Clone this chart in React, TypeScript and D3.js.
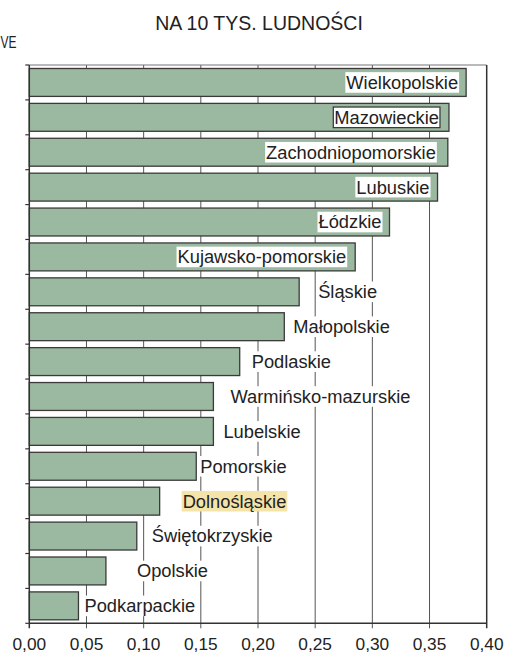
import * as d3 from 'd3'
import { useEffect, useRef } from 'react'

// regions, top to bottom
const regions = [
  'Wielkopolskie',
  'Mazowieckie',
  'Zachodniopomorskie',
  'Lubuskie',
  'Łódzkie',
  'Kujawsko-pomorskie',
  'Śląskie',
  'Małopolskie',
  'Podlaskie',
  'Warmińsko-mazurskie',
  'Lubelskie',
  'Pomorskie',
  'Dolnośląskie',
  'Świętokrzyskie',
  'Opolskie',
  'Podkarpackie',
]
// na 10 tys. ludności
const values = [
  0.382, 0.367, 0.366, 0.357, 0.315, 0.285, 0.236, 0.223, 0.184, 0.161, 0.161,
  0.146, 0.114, 0.094, 0.067, 0.043,
]
const xTicks = [0, 0.05, 0.1, 0.15, 0.2, 0.25, 0.3, 0.35, 0.4]
const title = 'NA 10 TYS. LUDNOŚCI'
const sideText = 'VE'

// label placement (px from bar end), labels are hand placed in the original
const labelGap = [8, 10, 12, 8, 8, 9, 19, 9, 12, 17, 10, 4, 23, 15, 31, 6]
const insideLimit = 0.25
const framed = 'Mazowieckie'
const highlighted = 'Dolnośląskie'

const W = 507
const H = 653
const FONT = '"Liberation Sans", Arial, sans-serif'

export default function App() {
  const svgRef = useRef<SVGSVGElement>(null)

  useEffect(() => {
    const svg = d3.select(svgRef.current)
    svg.selectAll('*').remove()

    const left = 29.3
    const right = 486.7
    const top = 65
    const bottom = 623.3

    const x = d3.scaleLinear().domain([0, 0.4]).range([left, right])
    const y = d3
      .scaleBand()
      .domain(regions)
      .range([top, bottom])
      .paddingInner(0.2)
      .paddingOuter(0.1)
    const step = y.step()

    const data = regions.map((r, i) => ({ r, v: values[i], i }))

    // title + heading fragment at the left
    svg
      .append('text')
      .attr('x', 259)
      .attr('y', 30)
      .attr('text-anchor', 'middle')
      .style('font-family', FONT)
      .style('font-size', '19.5px')
      .attr('fill', '#222')
      .text(title)
    svg
      .append('text')
      .attr('x', 0.5)
      .attr('y', 48)
      .attr('textLength', 16)
      .attr('lengthAdjust', 'spacingAndGlyphs')
      .style('font-family', FONT)
      .style('font-size', '16px')
      .attr('fill', '#222')
      .text(sideText)

    // vertical grid lines
    svg
      .selectAll('line.grid')
      .data(xTicks.slice(1, -1))
      .enter()
      .append('line')
      .attr('class', 'grid')
      .attr('x1', (d) => x(d))
      .attr('x2', (d) => x(d))
      .attr('y1', top)
      .attr('y2', bottom + 5)
      .attr('stroke', '#555')
      .attr('stroke-width', 1)

    // top frame line
    svg
      .append('line')
      .attr('x1', left)
      .attr('x2', right)
      .attr('y1', top)
      .attr('y2', top)
      .attr('stroke', '#777')
      .attr('stroke-width', 1.2)

    // bars
    svg
      .selectAll('rect.bar')
      .data(data)
      .enter()
      .append('rect')
      .attr('class', 'bar')
      .attr('x', x(0))
      .attr('y', (d) => y(d.r)!)
      .attr('width', (d) => x(d.v) - x(0))
      .attr('height', y.bandwidth())
      .attr('fill', '#9bb8a0')
      .attr('stroke', '#3a3a3a')
      .attr('stroke-width', 1.3)

    // labels
    const fs = 18.3
    const lab = svg.append('g')
    data.forEach((d) => {
      const inside = d.v > insideLimit
      const cy = y(d.r)! + y.bandwidth() / 2
      const t = lab
        .append('text')
        .attr('y', cy + fs * 0.35)
        .style('font-family', FONT)
        .style('font-size', fs + 'px')
        .attr('fill', '#222')
        .text(d.r)
      if (inside) {
        t.attr('x', x(d.v) - labelGap[d.i]).attr('text-anchor', 'end')
      } else {
        t.attr('x', x(d.v) + labelGap[d.i]).attr('text-anchor', 'start')
      }
      const bb = (t.node() as SVGTextElement).getBBox()
      const box = lab
        .insert('rect', () => t.node())
        .attr('x', bb.x - 1)
        .attr('y', cy - 10.3)
        .attr('width', bb.width + 2)
        .attr('height', 20.6)
        .attr('fill', d.r === highlighted ? '#f4e4aa' : '#fff')
      if (d.r === framed) {
        box.attr('stroke', '#333').attr('stroke-width', 1.2)
      }
    })

    // axes / frame
    svg
      .append('line')
      .attr('x1', left)
      .attr('x2', left)
      .attr('y1', top)
      .attr('y2', bottom + 5)
      .attr('stroke', '#333')
      .attr('stroke-width', 1.5)
    svg
      .append('line')
      .attr('x1', right)
      .attr('x2', right)
      .attr('y1', top)
      .attr('y2', bottom + 5)
      .attr('stroke', '#333')
      .attr('stroke-width', 1.5)
    svg
      .append('line')
      .attr('x1', left)
      .attr('x2', right)
      .attr('y1', bottom)
      .attr('y2', bottom)
      .attr('stroke', '#333')
      .attr('stroke-width', 1.5)

    // left ticks at band boundaries
    svg
      .selectAll('line.ytick')
      .data(d3.range(regions.length + 1))
      .enter()
      .append('line')
      .attr('class', 'ytick')
      .attr('x1', left - 4)
      .attr('x2', left)
      .attr('y1', (i) => top + i * step)
      .attr('y2', (i) => top + i * step)
      .attr('stroke', '#333')
      .attr('stroke-width', 1.2)

    // x tick labels
    svg
      .selectAll('text.xt')
      .data(xTicks)
      .enter()
      .append('text')
      .attr('class', 'xt')
      .attr('x', (d) => x(d))
      .attr('y', 650)
      .attr('text-anchor', 'middle')
      .style('font-family', FONT)
      .style('font-size', '17.3px')
      .attr('fill', '#222')
      .text((d) => d3.format('.2f')(d).replace('.', ','))
  }, [])

  return (
    <svg
      ref={svgRef}
      width={W}
      height={H}
      style={{ position: 'absolute', left: 0, top: 0, background: '#fff' }}
    />
  )
}
